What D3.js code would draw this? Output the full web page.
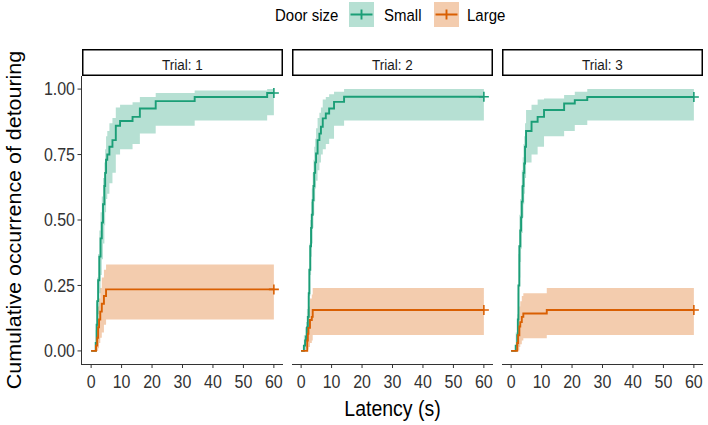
<!DOCTYPE html>
<html><head><meta charset="utf-8">
<script src="https://cdn.jsdelivr.net/npm/d3@7"></script>
<style>body{margin:0;background:#fff} text{font-family:"Liberation Sans",Arial,sans-serif}</style>
</head><body><svg id="c" width="708" height="425"></svg>
<script>
// ---------- data ----------
const trials = ["1", "2", "3"];
const groups = ["Small", "Large"];
const groupColors = ["#1B9E77", "#D95F02"];
const xTicks = [0, 10, 20, 30, 40, 50, 60];
const yTicks = [0, 0.25, 0.5, 0.75, 1];
const yTickLabels = ["0.00", "0.25", "0.50", "0.75", "1.00"];
const legendTitle = "Door size";
const xTitle = "Latency (s)";
const yTitle = "Cumulative occurrence of detouring";

// Trial 1 - Small
const small1Time = [0,1.5,1.8,2.0,2.3,2.7,3.1,3.5,3.9,4.35,4.6,4.9,5.3,6.0,7.0,8.1,9.5,13.6,16.0,21.2,34.0,57.8,60];
const small1Est  = [0,0.03,0.10,0.19,0.27,0.36,0.43,0.49,0.56,0.63,0.68,0.73,0.75,0.78,0.805,0.86,0.878,0.894,0.926,0.954,0.97,0.985,0.985];
const small1Low  = [0,0,0.02,0.08,0.14,0.22,0.29,0.35,0.41,0.48,0.53,0.58,0.60,0.64,0.68,0.75,0.77,0.79,0.83,0.86,0.88,0.90,0.90];
const small1Upp  = [0,0.08,0.18,0.28,0.37,0.46,0.53,0.59,0.66,0.72,0.77,0.82,0.84,0.87,0.89,0.93,0.94,0.95,0.97,0.985,0.995,1.0,1.0];
// Trial 1 - Large
const large1Time = [0,1.6,2.0,2.3,2.6,3.0,3.5,4.2,4.9,60];
const large1Est  = [0,0.02,0.05,0.09,0.12,0.15,0.18,0.21,0.235,0.235];
const large1Low  = [0,0,0,0.01,0.03,0.05,0.07,0.10,0.12,0.12];
const large1Upp  = [0,0.06,0.11,0.17,0.20,0.24,0.28,0.31,0.33,0.33];
// Trial 2 - Small
const small2Time = [0,0.9,1.3,1.6,1.9,2.2,2.5,2.7,3.0,3.26,3.5,3.8,4.05,4.3,4.6,4.9,5.4,6.0,6.5,7.1,8.1,9.2,10.8,14.1,60];
const small2Est  = [0,0.02,0.04,0.055,0.09,0.13,0.22,0.31,0.40,0.47,0.52,0.576,0.63,0.68,0.72,0.754,0.805,0.83,0.856,0.888,0.907,0.926,0.951,0.971,0.971];
const small2Low  = [0,0,0,0.01,0.03,0.06,0.13,0.21,0.29,0.36,0.41,0.47,0.52,0.57,0.62,0.65,0.69,0.72,0.75,0.77,0.79,0.81,0.86,0.88,0.88];
const small2Upp  = [0,0.06,0.09,0.11,0.16,0.21,0.31,0.41,0.50,0.57,0.62,0.68,0.73,0.78,0.81,0.85,0.89,0.91,0.93,0.96,0.97,0.98,0.99,1.0,1.0];
// Trial 2 - Large
const large2Time = [0,2.0,2.2,2.4,2.9,3.5,3.8,60];
const large2Est  = [0,0.04,0.065,0.088,0.118,0.13,0.156,0.156];
const large2Low  = [0,0,0.005,0.015,0.03,0.04,0.061,0.061];
const large2Upp  = [0,0.12,0.15,0.17,0.20,0.215,0.24,0.24];
// Trial 3 - Small
const small3Time = [0,1.5,2.0,2.2,2.4,2.7,3.0,3.26,3.5,3.8,4.05,4.3,4.56,4.9,6.7,8.7,10.8,17.4,20.9,25,60];
const small3Est  = [0,0.02,0.06,0.12,0.25,0.40,0.46,0.51,0.57,0.63,0.68,0.716,0.78,0.84,0.875,0.894,0.92,0.945,0.958,0.97,0.97];
const small3Low  = [0,0,0,0.03,0.14,0.28,0.34,0.39,0.45,0.51,0.56,0.60,0.66,0.72,0.75,0.78,0.82,0.84,0.863,0.88,0.88];
const small3Upp  = [0,0.07,0.14,0.22,0.37,0.52,0.58,0.63,0.69,0.74,0.79,0.82,0.87,0.92,0.94,0.96,0.964,0.977,0.99,1.0,1.0];
// Trial 3 - Large
const large3Time = [0,2.0,2.3,2.7,3.0,3.5,4.0,11.7,60];
const large3Est  = [0,0.03,0.06,0.093,0.11,0.13,0.143,0.156,0.156];
const large3Low  = [0,0,0.002,0.015,0.025,0.04,0.048,0.061,0.061];
const large3Upp  = [0,0.11,0.14,0.17,0.19,0.21,0.22,0.24,0.24];

const seriesByTrial = [
  [[small1Time, small1Est, small1Low, small1Upp], [large1Time, large1Est, large1Low, large1Upp]],
  [[small2Time, small2Est, small2Low, small2Upp], [large2Time, large2Est, large2Low, large2Upp]],
  [[small3Time, small3Est, small3Low, small3Upp], [large3Time, large3Est, large3Low, large3Upp]]
];

// ---------- layout ----------
const SY = 1.1; // vertical text stretch
const panelLefts = [82, 292, 502];
const panelW = 201, panelTop = 76, panelBottom = 364;
const stripTop = 49;
const svg = d3.select("#c");

function text(g, x, y, s, size, anchor, color, rot) {
  return g.append("text")
    .attr("transform", `translate(${x},${y}) scale(1,${SY})` + (rot ? ` rotate(${rot})` : ""))
    .attr("font-size", size).attr("text-anchor", anchor || "start")
    .attr("fill", color || "#000").text(s);
}

const y = d3.scaleLinear().domain([-0.05, 1.05]).range([panelBottom, panelTop]);

trials.forEach((tr, ti) => {
  const pl = panelLefts[ti];
  const x = d3.scaleLinear().domain([-3, 63]).range([pl, pl + panelW]);
  const g = svg.append("g");

  // strip
  g.append("rect").attr("x", pl + 0.75).attr("y", stripTop + 0.75)
    .attr("width", panelW - 1.5).attr("height", panelTop - stripTop - 1.5)
    .attr("fill", "#fff").attr("stroke", "#000").attr("stroke-width", 1.5);
  text(g, pl + panelW / 2, 69.5, "Trial: " + tr, 13.5, "middle", "#1a1a1a");

  const series = seriesByTrial[ti];
  const area = d3.area().curve(d3.curveStepAfter)
    .x(d => x(d.t)).y0(d => y(d.lo)).y1(d => y(d.up));
  const line = d3.line().curve(d3.curveStepAfter).x(d => x(d.t)).y(d => y(d.e));

  const pts = series.map(s => s[0].map((t, i) => ({ t, e: s[1][i], lo: s[2][i], up: s[3][i] })));

  pts.forEach((p, gi) => {
    g.append("path").datum(p).attr("d", area)
      .attr("fill", groupColors[gi]).attr("fill-opacity", 0.32);
  });
  pts.forEach((p, gi) => {
    g.append("path").datum(p).attr("d", line)
      .attr("fill", "none").attr("stroke", groupColors[gi]).attr("stroke-width", 1.9);
    const last = p[p.length - 1];
    const cx = x(last.t), cy = y(last.e);
    g.append("path").attr("d", `M${cx - 5},${cy}H${cx + 5}M${cx},${cy - 5}V${cy + 5}`)
      .attr("stroke", groupColors[gi]).attr("stroke-width", 1.6);
  });

  // x axis
  g.append("line").attr("x1", pl).attr("x2", pl + panelW).attr("y1", panelBottom + 0.5).attr("y2", panelBottom + 0.5)
    .attr("stroke", "#333").attr("stroke-width", 1);
  xTicks.forEach(t => {
    g.append("line").attr("x1", x(t)).attr("x2", x(t)).attr("y1", panelBottom).attr("y2", panelBottom + 4)
      .attr("stroke", "#333").attr("stroke-width", 1);
    text(g, x(t), 388, String(t), 16, "middle", "#333");
  });

  if (ti === 0) {
    g.append("line").attr("x1", pl - 0.5).attr("x2", pl - 0.5).attr("y1", panelTop).attr("y2", panelBottom + 1)
      .attr("stroke", "#333").attr("stroke-width", 1);
    yTicks.forEach((v, i) => {
      g.append("line").attr("x1", pl - 4.5).attr("x2", pl).attr("y1", y(v)).attr("y2", y(v))
        .attr("stroke", "#333").attr("stroke-width", 1);
      text(g, pl - 7, y(v) + 6.3, yTickLabels[i], 16, "end", "#333");
    });
  }
});

// axis titles
const plotCenter = (panelLefts[0] + panelLefts[2] + panelW) / 2;
text(svg, plotCenter, 416, xTitle, 19.5, "middle", "#000");
svg.append("text")
  .attr("transform", `translate(21,${(panelTop + panelBottom) / 2}) rotate(-90) scale(${SY},1)`)
  .attr("font-size", 19.5).attr("text-anchor", "middle").attr("fill", "#000").text(yTitle);

// legend
const lg = svg.append("g");
text(lg, 275, 21, legendTitle, 15, "start", "#000");
const keyX = [349, 434], labX = [384, 467];
groups.forEach((name, gi) => {
  lg.append("rect").attr("x", keyX[gi]).attr("y", 2).attr("width", 25).attr("height", 25)
    .attr("fill", groupColors[gi]).attr("fill-opacity", 0.32);
  const cx = keyX[gi] + 12.5, cy = 14.5;
  lg.append("path").attr("d", `M${cx - 11},${cy}H${cx + 11}M${cx},${cy - 5}V${cy + 5}`)
    .attr("stroke", groupColors[gi]).attr("stroke-width", 1.9);
  text(lg, labX[gi], 21, name, 15, "start", "#000");
});
</script></body></html>
